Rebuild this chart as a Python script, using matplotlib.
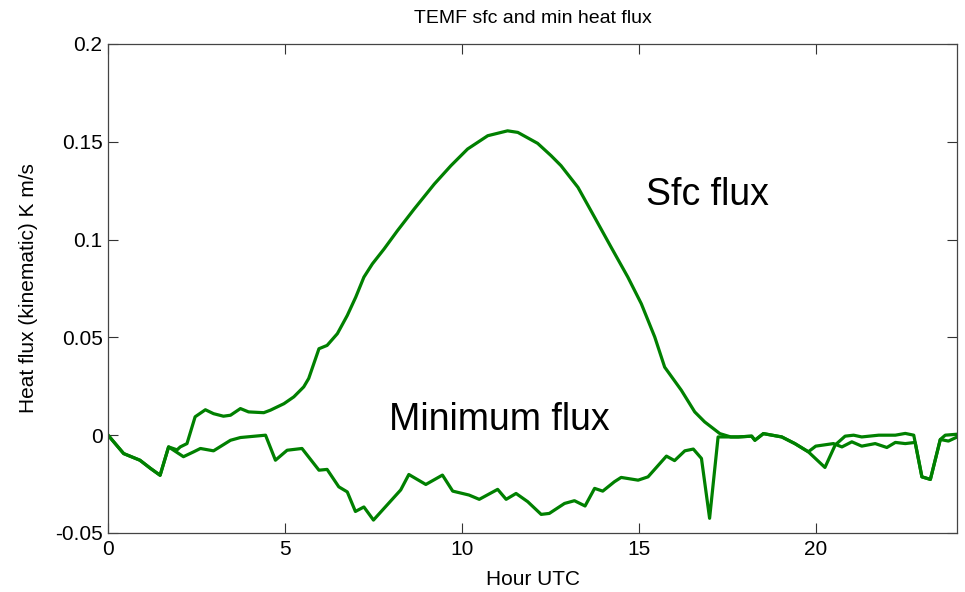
import matplotlib
matplotlib.use('Agg')
import matplotlib.pyplot as plt

plt.rcParams['font.family'] = ['Liberation Sans', 'DejaVu Sans']

# surface heat flux (kinematic), K m/s
sfc_hour = [0, 0.44, 0.9, 1.2, 1.47, 1.71, 1.95, 2.04, 2.23, 2.46, 2.75, 2.98, 3.26,
            3.46, 3.74, 3.97, 4.4, 4.59, 4.97, 5.25, 5.53, 5.67, 5.96, 6.19, 6.48,
            6.76, 7.0, 7.23, 7.47, 7.8, 8.18, 8.65, 9.22, 9.69, 10.16, 10.73, 11.29,
            11.58, 12.14, 12.52, 12.8, 13.28, 13.75, 14.22, 14.69, 15.07, 15.45,
            15.73, 16.2, 16.58, 16.86, 17.29, 17.6, 17.81, 18.19, 18.28, 18.52,
            19.04, 19.41, 19.79, 20.0, 20.5, 20.74, 21.02, 21.3, 21.68, 22.01,
            22.25, 22.53, 22.81, 23.0, 23.24, 23.52, 23.75, 24.0]
sfc_flux = [0, -0.0094, -0.0128, -0.017, -0.0205, -0.006, -0.0075, -0.006, -0.0043,
            0.0094, 0.013, 0.011, 0.0097, 0.0102, 0.0136, 0.0119, 0.0115, 0.0128,
            0.0161, 0.0196, 0.0247, 0.0290, 0.0442, 0.0459, 0.0519, 0.0612, 0.0706,
            0.0808, 0.0876, 0.0952, 0.1046, 0.1156, 0.1284, 0.1378, 0.1463, 0.1531,
            0.1556, 0.1548, 0.1492, 0.1429, 0.1378, 0.1267, 0.1114, 0.096, 0.0808,
            0.0672, 0.0502, 0.0348, 0.023, 0.0119, 0.0068, 0.0008, -0.0009, -0.0009,
            -0.0005, -0.0026, 0.0008, -0.0009, -0.0043, -0.0085, -0.0056, -0.0043,
            -0.006, -0.0034, -0.0056, -0.0043, -0.0063, -0.0037, -0.0043, -0.0037,
            -0.0213, -0.0226, -0.0022, -0.003, -0.0009]

# minimum heat flux in the column
min_hour = [0, 0.44, 0.9, 1.2, 1.47, 1.71, 2.13, 2.42, 2.61, 2.98, 3.46, 3.74, 4.45,
            4.73, 5.06, 5.48, 5.96, 6.19, 6.52, 6.76, 6.99, 7.23, 7.5, 7.8, 8.27,
            8.5, 8.98, 9.45, 9.74, 10.2, 10.49, 11.01, 11.25, 11.53, 11.86, 12.24,
            12.47, 12.9, 13.18, 13.48, 13.75, 13.98, 14.31, 14.5, 14.98, 15.26,
            15.78, 16.01, 16.3, 16.54, 16.77, 17.0, 17.24, 17.81, 18.19, 18.28,
            18.52, 19.04, 19.41, 19.79, 20.26, 20.55, 20.83, 21.07, 21.3, 21.78,
            22.25, 22.53, 22.77, 23.0, 23.24, 23.52, 23.66, 24.0]
min_flux = [0, -0.0094, -0.0128, -0.017, -0.0205, -0.006, -0.011, -0.0085, -0.0068,
            -0.008, -0.0026, -0.0012, 0, -0.0128, -0.0077, -0.0068, -0.0179, -0.0175,
            -0.0264, -0.029, -0.039, -0.0367, -0.0434, -0.0374, -0.028, -0.0201,
            -0.0252, -0.0204, -0.0286, -0.0306, -0.0328, -0.0277, -0.0328, -0.0298,
            -0.034, -0.0405, -0.04, -0.0349, -0.0335, -0.0362, -0.0272, -0.0286,
            -0.0238, -0.0216, -0.023, -0.0213, -0.0107, -0.013, -0.008, -0.0071,
            -0.0119, -0.0425, -0.0009, -0.0009, -0.0005, -0.0026, 0.0008, -0.0009,
            -0.0043, -0.0085, -0.0165, -0.005, -0.0005, 0, -0.0009, 0, 0, 0.0009, 0,
            -0.0213, -0.0226, -0.0022, 0, 0.0005]

xticks = [0, 5, 10, 15, 20]
yticks = [-0.05, 0, 0.05, 0.1, 0.15, 0.2]
ytick_labels = ['-0.05', '0', '0.05', '0.1', '0.15', '0.2']

fig = plt.figure(figsize=(9.65, 5.92), dpi=100)
ax = fig.add_axes([0.112, 0.0997, 0.880, 0.826])

ax.plot(sfc_hour, sfc_flux, color='#008000', linewidth=2.3)
ax.plot(min_hour, min_flux, color='#008000', linewidth=2.3)

ax.set_xlim(0, 24)
ax.set_ylim(-0.05, 0.2)
ax.set_xticks(xticks)
ax.set_xticklabels([str(t) for t in xticks])
ax.set_yticks(yticks)
ax.set_yticklabels(ytick_labels)
ax.tick_params(direction='in', top=True, right=True, length=7, width=0.8,
               labelsize=15, colors='#333333', labelcolor='black')
ax.tick_params(axis='x', pad=5)
ax.tick_params(axis='y', pad=4)
for s in ax.spines.values():
    s.set_color('#444444')
    s.set_linewidth(0.9)

ax.set_title('TEMF sfc and min heat flux', fontsize=14, pad=15)
ax.set_xlabel('Hour UTC', fontsize=15, labelpad=8)
ax.set_ylabel('Heat flux (kinematic) K m/s', fontsize=15, labelpad=12)

ax.text(15.2, 0.123, 'Sfc flux', fontsize=27, va='center')
ax.text(7.95, 0.008, 'Minimum flux', fontsize=27, va='center')

fig.savefig('out.png', dpi=100)
